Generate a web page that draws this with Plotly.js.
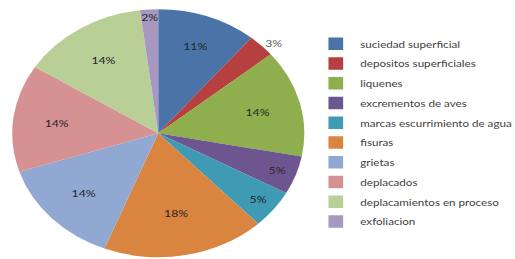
<!DOCTYPE html>
<html><head><meta charset="utf-8">
<script src="https://cdn.plot.ly/plotly-3.0.1.min.js"></script>
<style>
html,body{margin:0;padding:0;background:#fff;overflow:hidden;}
#wrap{width:515px;height:259px;overflow:hidden;position:relative;}
#chart{position:absolute;left:0;top:0;width:520px;height:250px;transform:scale(1.225,1.04);transform-origin:0 0;}
</style></head>
<body><div id="wrap"><div id="chart"></div></div>
<script>
const labels = ["suciedad superficial","depositos superficiales","liquenes","excrementos de aves","marcas escurrimiento de agua","fisuras","grietas","deplacados","deplacamientos en proceso","exfoliacion"];
const values = [11,3,14,5,5,18,14,14,14,2];
const colors = ["#4A73A8","#B5403F","#8FAE4E","#6D5590","#3F9AB3","#DA853F","#91A9D2","#D69293","#B8CF95","#A897C1"];
const textPos = ["inside","outside","inside","inside","inside","inside","inside","inside","inside","inside"];

Plotly.newPlot("chart", [{
  type: "pie",
  labels: labels,
  values: values,
  sort: false,
  direction: "clockwise",
  rotation: 0,
  marker: {colors: colors, line: {width: 0}},
  textinfo: "percent",
  texttemplate: "%{percent:.0%}",
  textposition: textPos,
  insidetextorientation: "horizontal",
  insidetextfont: {family: "Lato, sans-serif", size: 10, color: "#262626"},
  outsidetextfont: {family: "Lato, sans-serif", size: 10, color: "#606060"},
  domain: {x: [0.0192, 0.4777], y: [0.0104, 0.964]},
  hoverinfo: "none"
}], {
  width: 520, height: 250,
  margin: {l: 0, r: 0, t: 0, b: 0},
  paper_bgcolor: "#fff",
  uniformtext: {minsize: 10, mode: "show"},
  showlegend: true,
  legend: {x: 0.4887, xanchor: "left", y: 0.890, yanchor: "top",
    font: {family: "Lato, sans-serif", size: 9.5, color: "#404040"},
    bgcolor: "rgba(0,0,0,0)"},
  font: {family: "Lato, sans-serif"}
}, {staticPlot: true, displayModeBar: false});
</script></body></html>
